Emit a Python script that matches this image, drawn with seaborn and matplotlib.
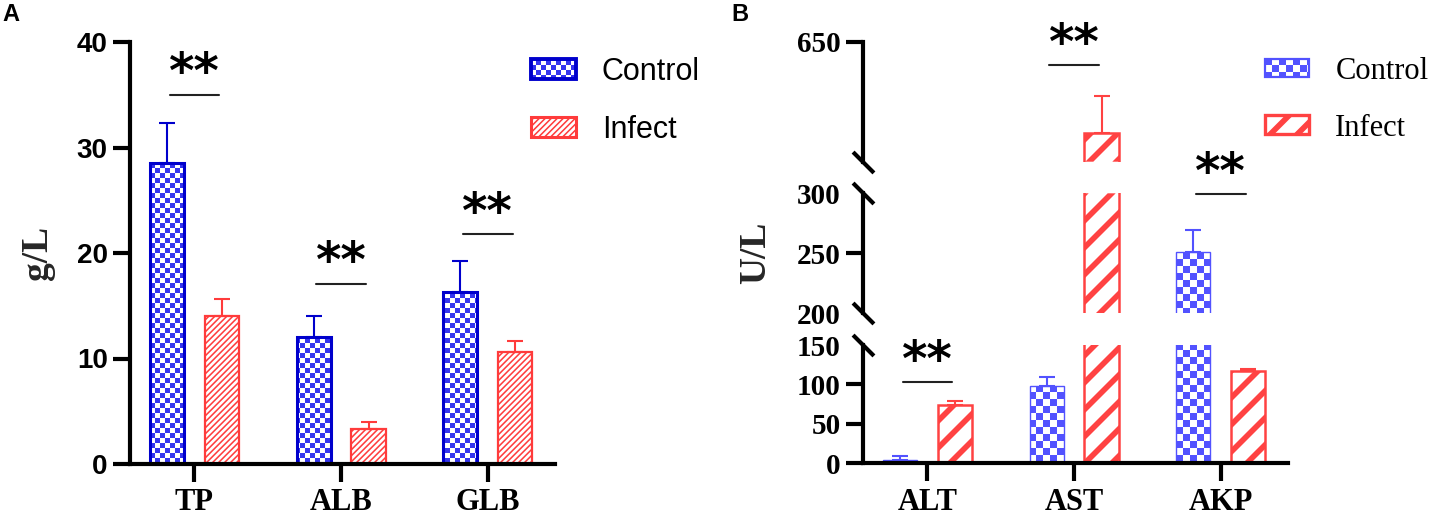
import numpy as np
import pandas as pd
import seaborn as sns
import matplotlib.pyplot as plt
from matplotlib.collections import PolyCollection
from matplotlib.legend_handler import HandlerBase
from matplotlib.patches import Rectangle, Polygon
from matplotlib.transforms import Bbox, IdentityTransform

sns.set_style("ticks")
plt.rcParams["font.family"] = ["Liberation Sans", "DejaVu Sans"]
plt.rcParams["axes.edgecolor"] = "black"
plt.rcParams["xtick.color"] = "black"
plt.rcParams["ytick.color"] = "black"
plt.rcParams["text.color"] = "black"

# ---- data ----
groups = ["Control", "Infect"]

# panel A: serum proteins (g/L)
cats_a = ["TP", "ALB", "GLB"]
ctrl_a = [28.5, 12.0, 16.3]
ctrl_a_sd = [3.8, 2.0, 2.9]
inf_a = [14.0, 3.3, 10.6]
inf_a_sd = [1.6, 0.7, 1.1]
sig_a = [35.0, 17.1, 21.8]
ticks_a = [0, 10, 20, 30, 40]

# panel B: serum enzymes (U/L), broken y axis
cats_b = ["ALT", "AST", "AKP"]
ctrl_b = [4.5, 98, 251]
ctrl_b_sd = [4.5, 11, 18]
inf_b = [74, 536, 117]
inf_b_sd = [5, 46, 3]
sig_b = [103, 621, 299.5]
segments_b = [(0, 150), (200, 300), (500, 650)]
ticks_b = [[0, 50, 100, 150], [200, 250, 300], [650]]
break_ticks_b = [[150], [200, 300], []]

# bar looks: pattern sizes in pixels
style_a = [
    dict(kind="checker", color="#3535EE", edge="#0000CC", lw=2.2, cell=5),
    dict(kind="stripe", color="#FF3B3B", edge="#FF3B3B", lw=1.6, period=6, width=2.2),
]
style_b = [
    dict(kind="checker", color="#5252FF", edge="#5252FF", lw=1.0, cell=7),
    dict(kind="stripe", color="#FF4242", edge="#FF4242", lw=1.8, period=27, width=8),
]

W, H = 1433, 518
fig = plt.figure(figsize=(W / 100, H / 100), dpi=100)


def rect(x0, y0, x1, y1):
    # pixel box (top-left origin) -> figure fraction
    return [x0 / W, 1 - y1 / H, (x1 - x0) / W, (y1 - y0) / H]


ax_a = fig.add_axes(rect(130, 42, 555, 464))
ax_b = [fig.add_axes(rect(863, 345, 1288, 463.3)),
        fig.add_axes(rect(863, 193.3, 1288, 313.3)),
        fig.add_axes(rect(863, 41.7, 1288, 161.7))]


def make_df(cats, ctrl, inf):
    return pd.DataFrame({"cat": cats * 2,
                         "group": ["Control"] * len(cats) + ["Infect"] * len(cats),
                         "value": list(ctrl) + list(inf)})


def pattern_polys(x0, y0, x1, y1, st, k=1.0):
    polys = []
    if st["kind"] == "checker":
        c = st["cell"] * k
        for i in range(int(np.floor(x0 / c)), int(np.ceil(x1 / c))):
            for j in range(int(np.floor(y0 / c)), int(np.ceil(y1 / c))):
                if (i + j) % 2 == 0:
                    polys.append([(i * c, j * c), ((i + 1) * c, j * c),
                                  ((i + 1) * c, (j + 1) * c), (i * c, (j + 1) * c)])
    else:
        p, w = st["period"] * k, st["width"] * k
        for n in range(int(np.floor((x0 - y1 - w) / p)), int(np.ceil((x1 - y0) / p)) + 1):
            c = n * p
            polys.append([(c + y0, y0), (c + w + y0, y0), (c + w + y1, y1), (c + y1, y1)])
    return polys


def draw_bars(ax, df, cats, styles, sds, ylim):
    sns.barplot(data=df, x="cat", y="value", hue="group", order=cats, hue_order=groups,
                width=0.75, gap=0.38, errorbar=None, legend=False, ax=ax)
    ax.set_xlim(-0.44, 2.46)
    ax.set_ylim(*ylim)
    bars = list(ax.containers[:2])
    for cont, st, sd in zip(bars, styles, sds):
        for bar in cont:
            bar.set_facecolor("none")
            bar.set_edgecolor(st["edge"])
            bar.set_linewidth(st["lw"])
            bar.set_zorder(2)
            bb = Bbox.intersection(bar.get_window_extent(), ax.bbox)
            if bb is None or bb.height <= 0:
                continue
            pc = PolyCollection(pattern_polys(bb.x0, bb.y0, bb.x1, bb.y1, st),
                                facecolors=st["color"], edgecolors="none", linewidths=0,
                                transform=IdentityTransform(), zorder=1)
            ax.add_collection(pc, autolim=False)
            pc.set_clip_box(bb)
        xs = [b.get_x() + b.get_width() / 2 for b in cont]
        hs = [b.get_height() for b in cont]
        ax.errorbar(xs, hs, yerr=[np.zeros(len(sd)), sd], fmt="none", ecolor=st["edge"],
                    elinewidth=1.5, capsize=6, capthick=1.5, zorder=1.5)
    ax.set_xlabel("")
    ax.set_ylabel("")


def add_sig(ax, i, y):
    ax.plot([i - 0.17, i + 0.17], [y, y], color="#222222", lw=1.5, clip_on=False, zorder=3)
    ax.annotate("**", xy=(i, y), xytext=(0, 4.5), textcoords="offset points",
                ha="center", va="baseline", fontsize=35, fontweight="bold", color="black",
                family="DejaVu Sans", annotation_clip=False, zorder=6)


def set_font(labels, family, size, weight="bold"):
    for t in labels:
        t.set_fontfamily(family)
        t.set_fontsize(size)
        t.set_fontweight(weight)


class PatternHandler(HandlerBase):
    def __init__(self, st):
        super().__init__()
        self.st = st

    def create_artists(self, legend, orig_handle, xdescent, ydescent, width, height, fontsize, trans):
        x0, y0 = -xdescent, -ydescent
        st = self.st
        border = Rectangle((x0, y0), width, height, facecolor="none", edgecolor=st["edge"],
                           lw=st["lw"] + 0.6, transform=trans)
        arts = []
        for p in pattern_polys(x0, y0, x0 + width, y0 + height, st, k=0.72):
            poly = Polygon(p, closed=True, facecolor=st["color"], edgecolor="none", transform=trans)
            poly.set_clip_path(border)
            arts.append(poly)
        return arts + [border]


def add_legend(ax, styles, family, anchor, handlelength, handleheight, textpad):
    handles = [Rectangle((0, 0), 1, 1) for _ in groups]
    ax.legend(handles, groups, handler_map={h: PatternHandler(s) for h, s in zip(handles, styles)},
              loc="upper left", bbox_to_anchor=(anchor[0] / W, 1 - anchor[1] / H),
              bbox_transform=fig.transFigure, frameon=False, borderpad=0, borderaxespad=0,
              prop={"family": family, "size": 22}, handlelength=handlelength,
              handleheight=handleheight, handletextpad=textpad, labelspacing=0.9)


def style_axis(ax, bottom=True):
    for side in ["top", "right"]:
        ax.spines[side].set_visible(False)
    ax.spines["left"].set_linewidth(3)
    ax.spines["bottom"].set_linewidth(3)
    ax.spines["bottom"].set_visible(bottom)
    ax.tick_params(axis="y", length=12, width=3, pad=4)
    if bottom:
        ax.tick_params(axis="x", length=13, width=3, pad=4.5)
    else:
        ax.tick_params(axis="x", length=0, labelbottom=False)
    ax.patch.set_visible(False)


# ---- panel A ----
draw_bars(ax_a, make_df(cats_a, ctrl_a, inf_a), cats_a, style_a, [ctrl_a_sd, inf_a_sd], (0, 40))
style_axis(ax_a)
ax_a.set_yticks(ticks_a)
set_font(ax_a.get_yticklabels(), "Liberation Sans", 20)
set_font(ax_a.get_xticklabels(), "Liberation Serif", 22)
for i, y in enumerate(sig_a):
    add_sig(ax_a, i, y)
ax_a.set_ylabel("g/L", family="Liberation Serif", fontsize=27, fontweight="bold")
ax_a.yaxis.set_label_coords(-0.176, 0.5)
add_legend(ax_a, style_a, "Liberation Sans", (531, 57), 1.47, 0.65, 0.85)

# ---- panel B (three stacked segments) ----
df_b = make_df(cats_b, ctrl_b, inf_b)
for k, ax in enumerate(ax_b):
    draw_bars(ax, df_b, cats_b, style_b, [ctrl_b_sd, inf_b_sd], segments_b[k])
    style_axis(ax, bottom=(k == 0))
    ax.set_yticks(ticks_b[k])
    set_font(ax.get_yticklabels(), "Liberation Serif", 21)
    for t, v in zip(ax.yaxis.get_major_ticks(), ticks_b[k]):
        if v in break_ticks_b[k]:
            t.tick1line.set_visible(False)
    # break marks at the cut ends of each segment
    ends = ([1] if k == 0 else [0, 1] if k == 1 else [0])
    for e in ends:
        ax.plot([0], [e], transform=ax.transAxes, marker=[(-1, 1), (1, -1)], markersize=15,
                mew=3, color="black", linestyle="none", clip_on=False, zorder=5)
set_font(ax_b[0].get_xticklabels(), "Liberation Serif", 22)
for i, y in enumerate(sig_b):
    k = [j for j, (lo, hi) in enumerate(segments_b) if lo <= y <= hi][0]
    add_sig(ax_b[k], i, y)
ax_b[1].set_ylabel("U/L", family="Liberation Serif", fontsize=27, fontweight="bold")
ax_b[1].yaxis.set_label_coords(-0.212, 0.5)
add_legend(ax_b[2], style_b, "Liberation Serif", (1265, 57), 1.45, 0.55, 0.85)

fig.text(2 / W, 1 - 3 / H, "A", ha="left", va="top", fontsize=17, fontweight="bold")
fig.text(731 / W, 1 - 3 / H, "B", ha="left", va="top", fontsize=17, fontweight="bold")

fig.savefig("out.png", dpi=100, facecolor="white")
